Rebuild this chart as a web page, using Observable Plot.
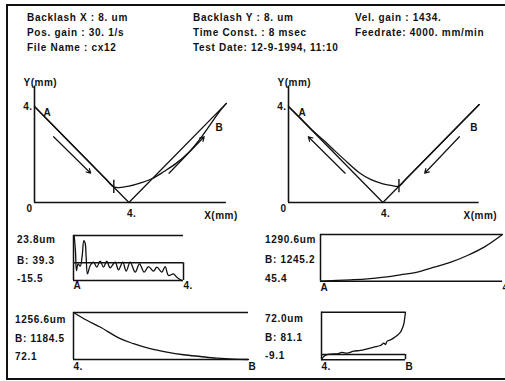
<!DOCTYPE html>
<html><head><meta charset="utf-8">
<script src="https://cdn.jsdelivr.net/npm/d3@7"></script>
<script src="https://cdn.jsdelivr.net/npm/@observablehq/plot@0.6"></script>
<style>
body{margin:0;background:#fff;}
#root{position:relative;width:505px;height:381px;overflow:hidden;font-family:"Liberation Sans",Arial,sans-serif;font-weight:bold;font-size:10px;color:#111;}
.t{position:absolute;white-space:nowrap;line-height:10px;letter-spacing:0.7px;}
.frame{position:absolute;left:6px;top:4px;width:520px;height:372px;border-left:2px solid #111;border-top:2px solid #111;border-bottom:2px solid #111;}
</style></head><body><div id="root"><div class="frame"></div></div>
<script>
// ---------- header texts ----------
const headerCol1 = ["Backlash X : 8. um", "Pos. gain : 30.  1/s", "File Name : cx12"];
const headerCol2 = ["Backlash Y : 8. um", "Time Const. : 8 msec", "Test Date: 12-9-1994, 11:10"];
const headerCol3 = ["Vel. gain : 1434.", "Feedrate: 4000. mm/min"];

// ---------- XY path plots (mm) ----------
const idealLX = [0, 4, 8.13];
const idealLY = [4, 0, 4.13];
const pathLX = [0, 0.5, 1, 1.5, 2, 2.5, 3, 3.36, 3.6, 4.0, 4.5, 5.0, 5.5, 6.0, 6.5, 7.0, 7.5, 7.8, 8.13];
const pathLY = [4, 3.5, 3, 2.5, 2, 1.5, 1, 0.65, 0.62, 0.68, 0.82, 1.0, 1.3, 1.63, 2.05, 2.63, 3.32, 3.74, 4.13];
const tickLX = [3.36], tickLY1 = [0.38], tickLY2 = [0.93];
const arrowLX1 = [0.81, 5.70], arrowLY1 = [2.74, 1.22], arrowLX2 = [2.38, 7.19], arrowLY2 = [1.22, 2.74];
const pointNames = ["A", "B"];
const pointLX = [0.55, 7.83], pointLY = [3.75, 3.13];

const idealRX = [0, 4, 8.08];
const idealRY = [4, 0, 4.08];
const pathRX = [0, 0.5, 1.0, 1.5, 2.0, 2.5, 3.0, 3.5, 4.0, 4.4, 4.68, 5.0, 5.5, 6.0, 6.5, 7.0, 7.5, 8.08];
const pathRY = [4, 3.52, 3.02, 2.58, 2.12, 1.67, 1.24, 0.95, 0.78, 0.7, 0.68, 1.0, 1.5, 2.0, 2.5, 3.0, 3.5, 4.08];
const tickRX = [4.68], tickRY1 = [0.41], tickRY2 = [0.96];
const arrowRX1 = [2.40, 7.24], arrowRY1 = [1.22, 2.74], arrowRX2 = [0.84, 5.77], arrowRY2 = [2.74, 1.22];
const pointRX = [0.59, 7.87], pointRY = [3.75, 3.13];

const axisTickMM = [4];
const axisTickText = "4.";

// ---------- error sub-plots ----------
// panel 1: A -> 4.
const p1X = [0.006, 0.018, 0.027, 0.042, 0.061, 0.079, 0.094, 0.106, 0.115, 0.127, 0.152, 0.182, 0.212, 0.242, 0.273, 0.303, 0.333, 0.379, 0.409, 0.448, 0.479, 0.515, 0.561, 0.600, 0.642, 0.682, 0.727, 0.758, 0.803, 0.833, 0.864, 0.909, 0.939, 0.985];
const p1Y = [23.8, 10, -6.8, -1, -3, 6, 19.4, 17, 5, -9.7, -2.4, 0.5, -3.8, 1.4, -3.8, 1.4, -4.4, 0.5, -6.2, 0.5, -7.3, 0.5, -8.2, -0.9, -8.2, -3.3, -7.3, -3.8, -8.2, -3.3, -11.1, -9.7, -12.6, -15.5];
const p1Labels = ["23.8um", "B: 39.3", "-15.5"], p1Ends = ["A", "4."], p1Range = [-15.5, 23.8];
// panel 2: 4. -> B
const p2X = [0, 0.076, 0.152, 0.267, 0.343, 0.438, 0.533, 0.629, 0.724, 0.819, 0.914, 1];
const p2Y = [1256.6, 1060, 890, 598, 471, 344, 258, 192, 148, 106, 80, 72.1];
const p2Labels = ["1256.6um", "B: 1184.5", "72.1"], p2Ends = ["4.", "B"], p2Range = [72.1, 1256.6];
// panel 3: A -> 4.
const p3X = [0, 0.165, 0.257, 0.349, 0.44, 0.532, 0.624, 0.716, 0.807, 0.899, 1];
const p3Y = [45.4, 82, 108, 152, 214, 286, 419, 552, 730, 953, 1290.6];
const p3Labels = ["1290.6um", "B: 1245.2", "45.4"], p3Ends = ["A", "4."], p3Range = [45.4, 1290.6];
// panel 4: 4. -> B
const p4X = [0, 0.02, 0.048, 0.107, 0.187, 0.246, 0.306, 0.385, 0.464, 0.544, 0.623, 0.702, 0.742, 0.762, 0.782, 0.821, 0.861, 0.9, 0.94, 0.96, 0.98, 0.992, 1];
const p4Y = [-9.1, -4.5, -1.1, 0.6, 1.1, 3.4, 2.3, 5.7, 6.8, 9.6, 12.5, 15.3, 19.3, 17.0, 22.7, 24.9, 28.3, 32.3, 38.0, 43.6, 52.2, 63.5, 72.0];
const p4Labels = ["72.0um", "B: 81.1", "-9.1"], p4Ends = ["4.", "B"], p4Range = [-9.1, 72.0];

// ---------- helpers ----------
const root = document.getElementById("root");
const INK = "#111";
const FONT = {fontFamily: "'Liberation Sans', Arial, sans-serif", fontSize: "10px", fontWeight: "bold", letterSpacing: "0.5px", background: "transparent", overflow: "visible", color: INK};
function put(el, left, top) { el.style.position = "absolute"; el.style.left = left + "px"; el.style.top = top + "px"; root.appendChild(el); }
function txt(s, left, cy) { const d = document.createElement("div"); d.className = "t"; d.textContent = s; d.style.left = left + "px"; d.style.top = (cy - 5) + "px"; root.appendChild(d); }
const zip = (a, b) => a.map((v, i) => ({x: v, y: b[i]}));

// header
const rowY = [18, 33, 48];
headerCol1.forEach((s, i) => txt(s, 27, rowY[i]));
headerCol2.forEach((s, i) => txt(s, 193, rowY[i]));
headerCol3.forEach((s, i) => txt(s, 355, rowY[i]));

// XY plot builder
function xyPlot(o) {
  const sx = 23.6, sy = 24;
  const ideal = zip(o.ix, o.iy), path = zip(o.px, o.py);
  const ticks = o.tx.map((v, i) => ({x: v, y1: o.ty1[i], y2: o.ty2[i]}));
  const arrows = o.ax1.map((v, i) => ({x1: v, y1: o.ay1[i], x2: o.ax2[i], y2: o.ay2[i]}));
  const pts = pointNames.map((n, i) => ({x: o.ptx[i], y: o.pty[i], n}));
  const xEnd = o.ix[o.ix.length - 1];
  return Plot.plot({
    width: o.w, height: 155, marginLeft: o.ml, marginRight: 2, marginTop: 12, marginBottom: 23,
    x: {domain: [0, 4], range: [o.ml, o.ml + 4 * sx], label: null},
    y: {domain: [0, 4], range: [132, 132 - 4 * sy], label: null},
    style: FONT,
    marks: [
      Plot.ruleX([0], {y1: 0, y2: 4.85, stroke: INK, strokeWidth: 1.6}),
      Plot.ruleY([0], {x1: 0, x2: xEnd, stroke: INK, strokeWidth: 1.6}),
      Plot.line(ideal, {x: "x", y: "y", stroke: INK, strokeWidth: 1.3}),
      Plot.line(path, {x: "x", y: "y", stroke: INK, strokeWidth: 1.3, curve: "catmull-rom"}),
      Plot.ruleX(ticks, {x: "x", y1: "y1", y2: "y2", stroke: INK, strokeWidth: 1.4}),
      Plot.arrow(arrows, {x1: "x1", y1: "y1", x2: "x2", y2: "y2", stroke: INK, strokeWidth: 1.2, headLength: 6}),
      Plot.text(pts, {x: "x", y: "y", text: "n", fill: INK}),
      Plot.text(["Y(mm)"], {x: 0.25, y: 5.0, text: d => d, fill: INK}),
      Plot.text(["X(mm)"], {x: o.xlab, y: -0.55, text: d => d, fill: INK}),
      Plot.text(["0"], {x: 0, y: 0, text: d => d, dx: -5, dy: 6, fill: INK}),
      Plot.axisY({ticks: axisTickMM, tickFormat: () => axisTickText, tickSize: 0, tickPadding: 2, label: null, fill: INK}),
      Plot.axisX({ticks: axisTickMM, tickFormat: () => axisTickText, tickSize: 0, tickPadding: 7, textAnchor: "start", dx: -2, label: null, fill: INK})
    ]
  });
}
put(xyPlot({w: 250, ml: 34, ix: idealLX, iy: idealLY, px: pathLX, py: pathLY, tx: tickLX, ty1: tickLY1, ty2: tickLY2,
  ax1: arrowLX1, ay1: arrowLY1, ax2: arrowLX2, ay2: arrowLY2, ptx: pointLX, pty: pointLY, xlab: 7.9}), 0, 70);
put(xyPlot({w: 255, ml: 38, ix: idealRX, iy: idealRY, px: pathRX, py: pathRY, tx: tickRX, ty1: tickRY1, ty2: tickRY2,
  ax1: arrowRX1, ay1: arrowRY1, ax2: arrowRX2, ay2: arrowRY2, ptx: pointRX, pty: pointRY, xlab: 8.13}), 250, 70);

// error sub-plot builder
function errPlot(o) {
  const [mn, mx] = o.range;
  const data = zip(o.x, o.y);
  const marks = [
    Plot.ruleY([mx], {x1: 0, x2: 1, stroke: INK, strokeWidth: 1.5}),
    Plot.ruleY([mn], {x1: 0, x2: 1, stroke: INK, strokeWidth: 1.5}),
    Plot.ruleX([0], {y1: mn, y2: mx, stroke: INK, strokeWidth: 1.5}),
    Plot.line(data, {x: "x", y: "y", stroke: INK, strokeWidth: 1.3, curve: "catmull-rom"}),
    Plot.axisX({ticks: [0, 1], tickFormat: d => o.ends[d], tickSize: 0, tickPadding: o.pad, textAnchor: "start", label: null, fill: INK})
  ];
  if (mn < 0) {
    marks.push(Plot.ruleY([0], {x1: 0, x2: 1, stroke: INK, strokeWidth: 1.5}));
    marks.push(Plot.ruleX([1], {y1: mn, y2: 0, stroke: INK, strokeWidth: 1.5}));
  }
  return Plot.plot({
    width: o.w, height: o.h, marginLeft: o.ml, marginRight: o.w - o.xr, marginTop: o.mt, marginBottom: o.h - o.yb,
    x: {domain: [0, 1], range: [o.ml, o.xr], label: null},
    y: {domain: [mn, mx], range: [o.yb, o.mt], label: null, axis: null},
    style: FONT,
    marks
  });
}
put(errPlot({w: 250, h: 75, ml: 73, xr: 183, mt: 10, yb: 55, range: p1Range, x: p1X, y: p1Y, ends: p1Ends, pad: 1}), 0, 225);
put(errPlot({w: 250, h: 75, ml: 73, xr: 248, mt: 12, yb: 59, range: p2Range, x: p2X, y: p2Y, ends: p2Ends, pad: 3}), 0, 300);
put(errPlot({w: 255, h: 75, ml: 70, xr: 252, mt: 9, yb: 55.7, range: p3Range, x: p3X, y: p3Y, ends: p3Ends, pad: 3}), 250, 225);
put(errPlot({w: 255, h: 75, ml: 71, xr: 155, mt: 11.7, yb: 59.3, range: p4Range, x: p4X, y: p4Y, ends: p4Ends, pad: 3}), 250, 300);

// side labels of error plots
p1Labels.forEach((s, i) => txt(s, 17, [240, 261, 279][i]));
p2Labels.forEach((s, i) => txt(s, 15, [320, 339, 357][i]));
p3Labels.forEach((s, i) => txt(s, 265, [240, 260, 279][i]));
p4Labels.forEach((s, i) => txt(s, 265, [319, 338, 356][i]));
</script></body></html>
